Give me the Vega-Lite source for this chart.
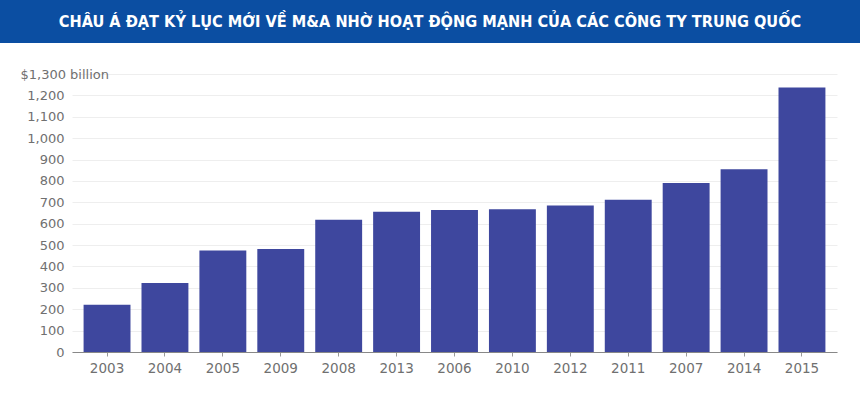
{
  "$schema": "https://vega.github.io/schema/vega-lite/v6.json",
  "background": "white",
  "padding": 0,
  "spacing": 31,
  "bounds": "flush",
  "config": {"view": {"stroke": null}, "font": "DejaVu Sans"},
  "vconcat": [
    {
      "width": 860,
      "height": 43,
      "view": {"fill": "#0b4ea2", "stroke": null},
      "data": {"values": [{"title": "CHÂU Á ĐẠT KỶ LỤC MỚI VỀ M&A NHỜ HOẠT ĐỘNG MẠNH CỦA CÁC CÔNG TY TRUNG QUỐC"}]},
      "mark": {"type": "text", "font": "'DejaVu Sans Condensed', 'Liberation Sans'", "fontWeight": "bold", "fontSize": 16.2, "color": "white", "baseline": "middle", "align": "center"},
      "encoding": {"text": {"field": "title"}}
    },
    {
      "hconcat": [
        {
          "width": 72,
          "height": 278,
          "data": {"values": []},
          "mark": "point",
          "encoding": {}
        },
        {
          "width": 765,
          "height": 278,
          "data": {"values": [
            {"year": "2003", "value": 221},
            {"year": "2004", "value": 323},
            {"year": "2005", "value": 475},
            {"year": "2009", "value": 482},
            {"year": "2008", "value": 618},
            {"year": "2013", "value": 656},
            {"year": "2006", "value": 664},
            {"year": "2010", "value": 668},
            {"year": "2012", "value": 685},
            {"year": "2011", "value": 712},
            {"year": "2007", "value": 790},
            {"year": "2014", "value": 855},
            {"year": "2015", "value": 1237}
          ]},
          "mark": {"type": "bar", "color": "#3e479e"},
          "encoding": {
            "x": {
              "field": "year", "type": "nominal", "sort": null,
              "scale": {"paddingInner": 0.19, "paddingOuter": 0.2},
              "axis": {"title": null, "labelAngle": 0, "labelColor": "#707070", "labelFont": "DejaVu Sans", "labelFontSize": 13.5, "labelPadding": 5, "tickColor": "#999999", "tickSize": 4, "domainColor": "#888888", "grid": false}
            },
            "y": {
              "field": "value", "type": "quantitative",
              "scale": {"domain": [0, 1300], "nice": false},
              "axis": {
                "title": null,
                "values": [0, 100, 200, 300, 400, 500, 600, 700, 800, 900, 1000, 1100, 1200, 1300],
                "labelExpr": "datum.value == 1300 ? '$1,300 billion' : format(datum.value, ',')",
                "labelAlign": {"condition": {"test": "datum.value == 1300", "value": "left"}, "value": "right"},
                "labelPadding": {"condition": {"test": "datum.value == 1300", "value": 52}, "value": 8},
                "ticks": false, "domain": false,
                "gridColor": "#eeeeee",
                "labelColor": "#707070", "labelFont": "DejaVu Sans", "labelFontSize": 13
              }
            }
          }
        }
      ],
      "spacing": 0,
      "bounds": "flush"
    }
  ]
}
